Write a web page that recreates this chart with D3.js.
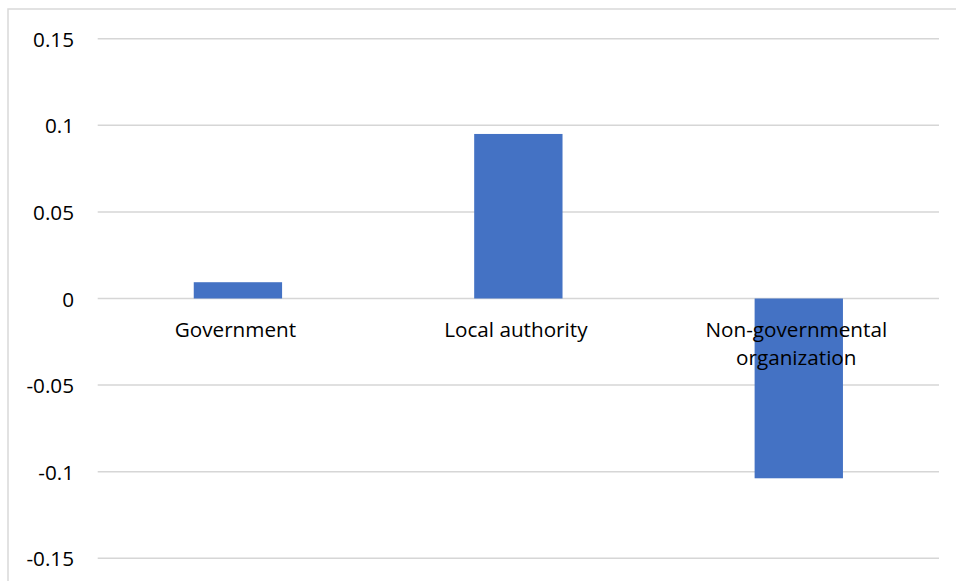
<!DOCTYPE html>
<html>
<head>
<meta charset="utf-8">
<script src="https://cdn.jsdelivr.net/npm/d3@7"></script>
<style>
  html, body { margin: 0; padding: 0; background: #fff; }
  svg { display: block; }
</style>
</head>
<body>
<svg id="chart" width="956" height="581"></svg>
<script>
const categories = ["Government", "Local authority", "Non-governmental organization"];
const values = [0.0094, 0.095, -0.1038];
const tickValues = [0.15, 0.1, 0.05, 0, -0.05, -0.1, -0.15];
const tickLabels = ["0.15", "0.1", "0.05", "0", "-0.05", "-0.1", "-0.15"];

const svg = d3.select("#chart");
const W = 956, H = 581;
const font = "'Open Sans', 'DejaVu Sans', sans-serif";
const fontSize = 20.7;

// chart area border (top and left visible; right/bottom cropped)
svg.append("rect")
  .attr("x", 8).attr("y", 9)
  .attr("width", W + 20).attr("height", H + 20)
  .attr("fill", "#fff")
  .attr("stroke", "#d9d9d9")
  .attr("stroke-width", 1.5);

const plot = { left: 97.7, right: 939, top: 38.7, bottom: 558.3 };

const y = d3.scaleLinear().domain([-0.15, 0.15]).range([plot.bottom, plot.top]);
const x = d3.scaleBand().domain(categories).range([plot.left, plot.right]).padding(0);
const barW = x.bandwidth() * 0.315;

// gridlines
svg.append("g").selectAll("line").data(tickValues).join("line")
  .attr("x1", plot.left).attr("x2", plot.right)
  .attr("y1", d => y(d)).attr("y2", d => y(d))
  .attr("stroke", "#d6d6d6").attr("stroke-width", 1.5);

// y axis labels
svg.append("g").selectAll("text").data(tickValues).join("text")
  .attr("x", 74).attr("y", d => y(d))
  .attr("text-anchor", "end")
  .attr("dominant-baseline", "central")
  .attr("font-family", font).attr("font-size", fontSize)
  .attr("fill", "#000")
  .text((d, i) => tickLabels[i]);

// bars
svg.append("g").selectAll("rect").data(categories).join("rect")
  .attr("x", d => x(d) + x.bandwidth() / 2 - barW / 2)
  .attr("width", barW)
  .attr("y", (d, i) => y(Math.max(0, values[i])))
  .attr("height", (d, i) => Math.abs(y(values[i]) - y(0)))
  .attr("fill", "#4472C4");

// category labels with wrapping
const labelG = svg.append("g");
const maxW = x.bandwidth();
const labelShift = -2.5;
categories.forEach(cat => {
  const cx = x(cat) + x.bandwidth() / 2 + labelShift;
  const t = labelG.append("text")
    .attr("x", cx)
    .attr("y", y(0) + 38)
    .attr("text-anchor", "middle")
    .attr("font-family", font).attr("font-size", fontSize)
    .attr("fill", "#000");
  const words = cat.split(" ");
  let line = [];
  let tspan = t.append("tspan").attr("x", cx).attr("dy", 0);
  words.forEach(w => {
    line.push(w);
    tspan.text(line.join(" "));
    if (tspan.node().getComputedTextLength() > maxW && line.length > 1) {
      line.pop();
      tspan.text(line.join(" "));
      line = [w];
      tspan = t.append("tspan").attr("x", cx).attr("dy", 28.5).text(w);
    }
  });
});
</script>
</body>
</html>
